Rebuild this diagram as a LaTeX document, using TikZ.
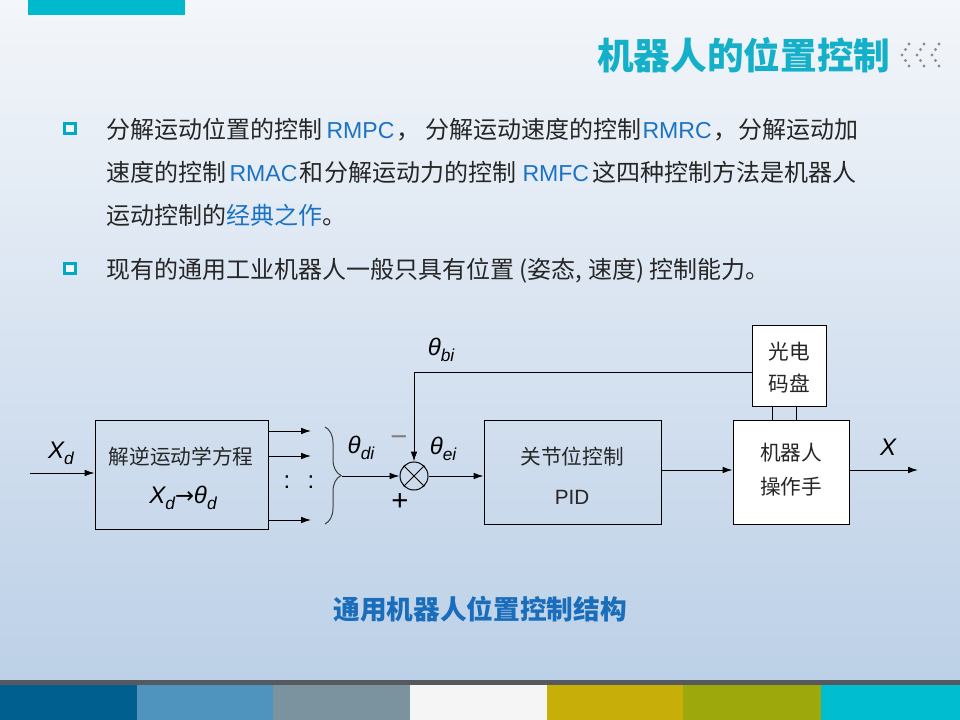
\documentclass[tikz,border=0pt]{standalone}
\usepackage{fontspec}
\setmainfont{Liberation Sans}
\newfontfamily\cjk{Noto Sans CJK SC}
\newfontfamily\djv{DejaVu Sans}
\usetikzlibrary{arrows.meta,decorations.pathreplacing}
\definecolor{bgtop}{HTML}{F3F6FA}
\definecolor{bgbot}{HTML}{BCD0E7}
\definecolor{tealbar}{HTML}{00B9CC}
\definecolor{titlec}{HTML}{14B0CA}
\definecolor{txt}{HTML}{262626}
\definecolor{hl}{HTML}{1C72C4}
\definecolor{capc}{HTML}{1A6DBB}
\definecolor{bul}{HTML}{00A9C6}
\definecolor{dotc}{HTML}{8C8C8C}
\definecolor{sA}{HTML}{005F8E}
\definecolor{sB}{HTML}{4F94BF}
\definecolor{sC}{HTML}{7A939F}
\definecolor{sD}{HTML}{F5F5F5}
\definecolor{sE}{HTML}{C8AE08}
\definecolor{sF}{HTML}{9CA80C}
\definecolor{sG}{HTML}{00BDD0}
\definecolor{sgray}{HTML}{56595E}
\newcommand\sym[2]{{\itshape #1\raisebox{-0.45ex}{\fontsize{13}{13}\selectfont #2}}}
\begin{document}
\begin{tikzpicture}[x=0.75pt, y=-0.75pt, line width=0.75pt,
  arr/.style={-{Latex[length=7.5pt,width=5pt]}},
  blk/.style={draw=black, line width=0.75pt, inner sep=0},
  body/.style={anchor=base west, inner sep=0, text=txt, font=\cjk\fontsize{18}{20}\selectfont},
  latin/.style={anchor=base west, inner sep=0, text=hl, font=\fontsize{17.3}{20}\selectfont},
  boxtxt/.style={inner sep=0, text=txt, font=\cjk\fontsize{15.5}{17}\selectfont},
  labtxt/.style={inner sep=0, text=black, font=\fontsize{18}{20}\selectfont},
  bullet/.style={draw=bul, line width=2.25pt, fill=bgtop}]
\useasboundingbox (0,0) rectangle (960,720);
% background
\shade[top color=bgtop, bottom color=bgbot] (0,0) rectangle (960,680);
\fill[sgray] (0,680) rectangle (960,685);
\fill[sA] (0,685) rectangle (137,720);
\fill[sB] (137,685) rectangle (273,720);
\fill[sC] (273,685) rectangle (410,720);
\fill[sD] (410,685) rectangle (547,720);
\fill[sE] (547,685) rectangle (683,720);
\fill[sF] (683,685) rectangle (821,720);
\fill[sG] (821,685) rectangle (960,720);
\fill[tealbar] (28,0) rectangle (185,15);
% title
\node[anchor=east, inner sep=0, text=titlec, font=\cjk\bfseries\fontsize{27.5}{30}\selectfont] (title) at (891,55) {机器人的位置控制};
\foreach \t in {902,917,932}{
  \foreach \dx/\dy in {7/44,3.5/49.5,0/55,3.5/60.5,7/66}{
    \fill[dotc] (\t+\dx,\dy) circle (1.2pt);
  }
}
% bullets
\draw[bullet] (64.5,123.5) rectangle (75,134);
\draw[bullet] (64.5,263.5) rectangle (75,274);
% line 1
\node[body] (l1a) at (106,139) {分解运动位置的控制};
\node[latin] (l1b) at (326,139) {RMPC};
\node[body] (l1c) at (396,139) {，};
\node[body] (l1d) at (425,139) {分解运动速度的控制};
\node[latin] (l1e) at (642,139) {RMRC};
\node[body] (l1f) at (713,139) {，};
\node[body] (l1g) at (738,139) {分解运动加};
% line 2
\node[body] (l2a) at (106,182) {速度的控制};
\node[latin] (l2b) at (229,182) {RMAC};
\node[body] (l2c) at (299,182) {和};
\node[body] (l2d) at (324,182) {分解运动力的控制};
\node[latin] (l2e) at (522,182) {RMFC};
\node[body] (l2f) at (592,182) {这四种控制方法是机器人};
% line 3
\node[body] (l3a) at (106,225) {运动控制的};
\node[body, text=hl] (l3b) at (226,225) {经典之作};
\node[body] (l3c) at (322,225) {。};
% bullet 2
\node[body] (l4a) at (106,279) {现有的通用工业机器人一般只具有位置 (姿态, 速度) 控制能力。};
% diagram blocks
\node[blk, minimum width=129.75pt, minimum height=81.75pt] (inv) at (181.5,474.5) {};
\node[blk, minimum width=132.75pt, minimum height=78pt] (pid) at (572.5,472) {};
\node[blk, fill=white, minimum width=87pt, minimum height=78pt] (rob) at (791,472) {};
\node[blk, fill=white, minimum width=55.5pt, minimum height=60.75pt] (enc) at (789,365.5) {};
\node[draw, circle, minimum size=21pt, inner sep=0, line width=0.75pt] (sum) at (414,476) {};
\draw (sum.north west) -- (sum.south east) (sum.north east) -- (sum.south west);
% block texts
\node[boxtxt] (t1) at (181,457) {解逆运动学方程};
\node[labtxt] (t2) at (183,498) {\sym{X}{d}{\djv\fontsize{17}{18}\selectfont →}\sym{θ}{d}};
\node[boxtxt] (t3) at (572,457) {关节位控制};
\node[boxtxt, font=\fontsize{15.5}{17}\selectfont] (t4) at (572,497) {PID};
\node[boxtxt] (t5) at (791,453) {机器人};
\node[boxtxt] (t6) at (791,487) {操作手};
\node[boxtxt] (t7) at (789,352) {光电};
\node[boxtxt] (t8) at (789,384) {码盘};
% labels
\node[labtxt] (lxd) at (61,453) {\sym{X}{d}};
\node[labtxt] (ldi) at (361,448) {\sym{θ}{di}};
\node[labtxt, text=gray, font=\fontsize{22}{22}\selectfont] (lminus) at (399,441) {−};
\node[labtxt, font=\fontsize{22}{22}\selectfont] (lplus) at (400,502) {+};
\node[labtxt] (lbi) at (441,350) {\sym{θ}{bi}};
\node[labtxt] (lei) at (443,449) {\sym{θ}{ei}};
\node[labtxt] (lx) at (888,450) {\sym{X}{}};
\node[labtxt] (dots1) at (287,482) {:};
\node[labtxt] (dots2) at (311,482) {:};
% connectors
\coordinate (in) at (30,473);
\draw[arr] (in) -- (inv.west |- in);
\coordinate (o1) at (311,431);
\coordinate (o2) at (311,456);
\coordinate (o3) at (311,520);
\draw[arr] (inv.east |- o1) -- (o1);
\draw[arr] (inv.east |- o2) -- (o2);
\draw[arr] (inv.east |- o3) -- (o3);
\draw[decorate, decoration={brace, amplitude=12pt}, draw=black!75] (325,427) -- (325,524);
\coordinate (bt) at (342,476);
\draw[arr] (bt) -- (sum.west);
\draw[arr] (sum.east) -- (pid.west |- sum.east);
\coordinate (y470) at (0,470);
\draw[arr] (pid.east |- y470) -- (rob.west |- y470);
\coordinate (out) at (918,470);
\draw[arr] (rob.east |- y470) -- (out);
\coordinate (fby) at (0,372);
\draw[arr] (enc.west |- fby) -| (sum.north);
\coordinate (x772) at (772,0);
\coordinate (x796) at (796,0);
\draw (enc.south -| x772) -- (rob.north -| x772);
\draw (enc.south -| x796) -- (rob.north -| x796);
% caption
\node[inner sep=0, text=capc, font=\cjk\bfseries\fontsize{20}{22}\selectfont] (cap) at (480,609) {通用机器人位置控制结构};
\end{tikzpicture}
\end{document}
